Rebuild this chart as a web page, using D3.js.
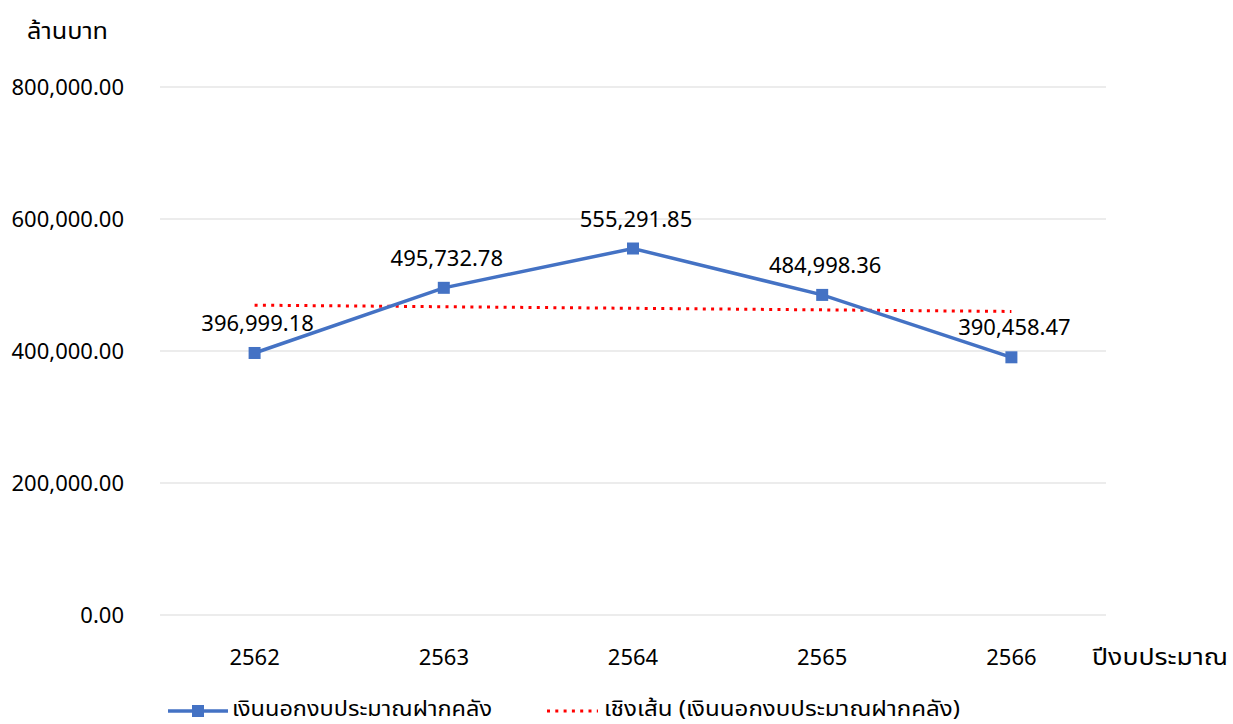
<!DOCTYPE html>
<html><head><meta charset="utf-8">
<script src="https://cdn.jsdelivr.net/npm/d3@7"></script>
<style>body{margin:0;background:#fff;} text{font-family:Tahoma,"Noto Sans","Noto Sans Thai",sans-serif;fill:#000;}</style>
</head><body><svg id="c" width="1233" height="724"></svg>
<script>
const categories = ["2562","2563","2564","2565","2566"];
const values = [396999.18, 495732.78, 555291.85, 484998.36, 390458.47];
const trendEnds = [469459, 459933];
const yTicks = [0, 200000, 400000, 600000, 800000];
const seriesName = "เงินนอกงบประมาณฝากคลัง";
const trendName = "เชิงเส้น (เงินนอกงบประมาณฝากคลัง)";
const yTitle = "ล้านบาท";
const xTitle = "ปีงบประมาณ";

const svg = d3.select("#c");
const x = d3.scaleBand().domain(categories).range([160,1106]);
const cx = d => x(d) + x.bandwidth()/2;
const y = d3.scaleLinear().domain([0,800000]).range([615,87]);
const fmt = d3.format(",.2f");
const NUM = 22;

// grid
svg.append("g").selectAll("line").data(yTicks).join("line")
  .attr("x1",160).attr("x2",1106).attr("y1",d=>y(d)).attr("y2",d=>y(d))
  .attr("stroke","#d9d9d9").attr("stroke-width",1);

// y axis labels
const yAxis = d3.axisLeft(y).tickValues(yTicks).tickFormat(fmt).tickSize(0).tickPadding(0);
const ya = svg.append("g").attr("transform","translate(124,0)").call(yAxis);
ya.select(".domain").remove();
ya.selectAll("text").attr("font-size",NUM).attr("dy","0.35em");

// x axis labels
const xAxis = d3.axisBottom(x).tickSize(0).tickPadding(0);
const xa = svg.append("g").attr("transform","translate(0,657)").call(xAxis);
xa.select(".domain").remove();
xa.selectAll("text").attr("font-size",NUM).attr("dy","0.35em");

// titles
svg.append("text").attr("x",27).attr("y",39).attr("font-size",23)
  .attr("textLength",81).attr("lengthAdjust","spacingAndGlyphs").text(yTitle);
svg.append("text").attr("x",1092).attr("y",665).attr("font-size",23)
  .attr("textLength",136).attr("lengthAdjust","spacingAndGlyphs").text(xTitle);

// trend
svg.append("line").attr("x1",cx(categories[0])).attr("x2",cx(categories[4]))
  .attr("y1",y(trendEnds[0])).attr("y2",y(trendEnds[1]))
  .attr("stroke","#ff0000").attr("stroke-width",3).attr("stroke-dasharray","3,5.3").attr("stroke-linecap","butt");

// line
const line = d3.line().x((d,i)=>cx(categories[i])).y(d=>y(d));
svg.append("path").datum(values).attr("d",line).attr("fill","none")
  .attr("stroke","#4472c4").attr("stroke-width",3.5);
svg.append("g").selectAll("rect").data(values).join("rect")
  .attr("x",(d,i)=>cx(categories[i])-6).attr("y",d=>y(d)-6).attr("width",12).attr("height",12)
  .attr("fill","#4472c4");

// data labels
svg.append("g").selectAll("text").data(values).join("text")
  .attr("x",(d,i)=>cx(categories[i])+3).attr("y",d=>y(d)-22)
  .attr("text-anchor","middle").attr("font-size",NUM).text(d=>fmt(d));

// legend
const lg = svg.append("g");
lg.append("line").attr("x1",168).attr("x2",228).attr("y1",711).attr("y2",711).attr("stroke","#4472c4").attr("stroke-width",3.5);
lg.append("rect").attr("x",192).attr("y",705).attr("width",12).attr("height",12).attr("fill","#4472c4");
lg.append("text").attr("x",232).attr("y",716).attr("font-size",22)
  .attr("textLength",260).attr("lengthAdjust","spacingAndGlyphs").text(seriesName);
lg.append("line").attr("x1",547).attr("x2",598).attr("y1",711).attr("y2",711).attr("stroke","#ff0000").attr("stroke-width",3).attr("stroke-dasharray","3,5.3");
lg.append("text").attr("x",604).attr("y",716).attr("font-size",22)
  .attr("textLength",356).attr("lengthAdjust","spacingAndGlyphs").text(trendName);
</script></body></html>
